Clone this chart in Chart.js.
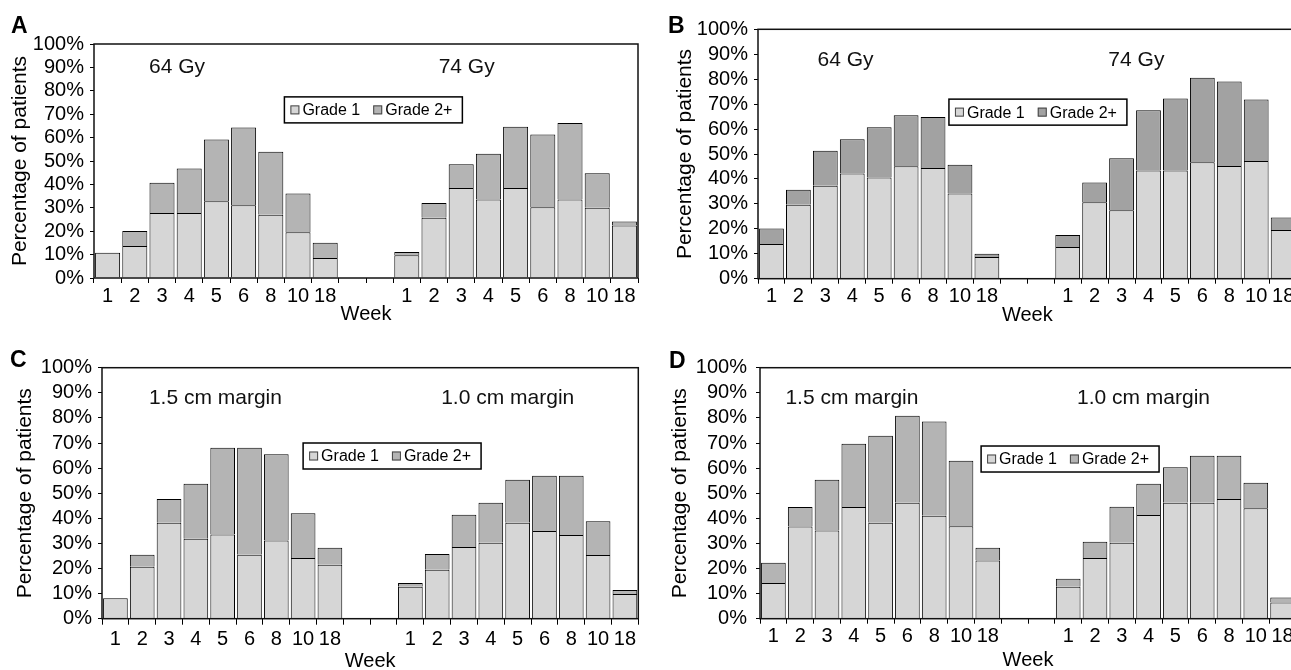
<!DOCTYPE html>
<html><head><meta charset="utf-8">
<script src="https://cdn.jsdelivr.net/npm/chart.js@4"></script>
<style>
html,body{margin:0;padding:0;background:#fff;overflow:hidden;width:1291px;height:670px;position:relative;}
canvas{position:absolute;}
</style></head><body>
<canvas id="cA" width="650" height="330" style="left:0px;top:0px"></canvas>
<canvas id="cB" width="660" height="330" style="left:650px;top:0px"></canvas>
<canvas id="cC" width="650" height="346" style="left:0px;top:330px"></canvas>
<canvas id="cD" width="660" height="346" style="left:650px;top:330px"></canvas>
<script>
// ---- data ----
const weekLabels = ['1','2','3','4','5','6','8','10','18','','','1','2','3','4','5','6','8','10','18'];
const seriesNames = ['Grade 1', 'Grade 2+'];
const yTicks = [0,10,20,30,40,50,60,70,80,90,100];

const groupsA = ['64 Gy', '74 Gy'];
const grade1A = [10.8,13.7,27.8,27.8,32.8,31.1,27.0,19.5,8.6,null,null,9.7,25.8,38.5,33.5,38.5,30.2,33.5,30.0,22.4];
const grade2A = [null,6.4,12.9,19.0,26.4,33.2,26.9,16.6,6.5,null,null,1.4,6.3,10.1,19.6,26.1,31.1,32.7,14.8,1.7];

const groupsB = ['64 Gy', '74 Gy'];
const grade1B = [13.9,29.7,37.3,42.2,40.6,45.1,44.4,34.2,8.7,null,null,12.7,30.7,27.4,43.4,43.4,46.7,45.2,47.2,19.5];
const grade2B = [6.2,6.0,14.0,13.7,20.1,20.4,20.4,11.5,1.3,null,null,4.8,7.9,20.9,24.1,28.9,33.9,33.9,24.7,5.0];

const groupsC = ['1.5 cm margin', '1.0 cm margin'];
const grade1C = [8.1,20.7,38.2,31.9,33.5,25.5,31.2,24.2,21.5,null,null,12.7,19.5,28.6,30.3,38.2,34.9,33.3,25.4,9.8];
const grade2C = [null,4.8,9.5,21.9,34.6,42.6,34.3,17.8,6.8,null,null,1.5,6.3,12.8,15.9,17.2,22.1,23.7,13.4,1.6];

const groupsD = ['1.5 cm margin', '1.0 cm margin'];
const grade1D = [14.2,36.7,35.1,44.5,38.2,46.2,41.0,36.8,23.2,null,null,12.7,24.2,30.3,41.3,46.2,46.2,47.7,44.0,6.5];
const grade2D = [8.1,7.8,20.3,25.2,34.7,34.7,37.6,26.1,5.1,null,null,3.2,6.5,14.3,12.5,14.1,18.7,17.2,10.2,1.9];

// ---- styling ----
const FONT = "'Liberation Sans', Arial, Helvetica, sans-serif";
const G1_COLOR = '#d6d6d6';

function decorPlugin(d) {
  return {
    id: 'decor',
    afterDatasetsDraw(chart) {
      const ctx = chart.ctx, ca = chart.chartArea;
      ctx.save();
      ctx.lineWidth = 1.5;
      ctx.strokeStyle = '#111';
      ctx.strokeRect(ca.left, ca.top, ca.right - ca.left, ca.bottom - ca.top);
      ctx.restore();
    },
    afterDraw(chart) {
      const ctx = chart.ctx, xs = chart.scales.x, ys = chart.scales.y;
      ctx.save();
      ctx.fillStyle = '#111';
      ctx.font = '21px ' + FONT;
      ctx.textAlign = 'center';
      ctx.textBaseline = 'middle';
      d.groups.forEach((g, i) => {
        ctx.fillText(g, xs.getPixelForValue(d.groupPos[i][0]), ys.getPixelForValue(d.groupPos[i][1]));
      });
      const ds = chart.data.datasets;
      const left = xs.getPixelForValue(d.legend[0]);
      const top = ys.getPixelForValue(d.legend[1]);
      ctx.font = '16px ' + FONT;
      const w1 = ctx.measureText(ds[0].label).width;
      const w2 = ctx.measureText(ds[1].label).width;
      const W = 6 + 9 + 3 + w1 + 13 + 9 + 3 + w2 + 10, H = 26;
      ctx.fillStyle = '#fff';
      ctx.fillRect(left, top, W, H);
      ctx.lineWidth = 1.5;
      ctx.strokeStyle = '#000';
      ctx.strokeRect(left, top, W, H);
      let x = left + 6;
      const cy = top + H / 2;
      ds.forEach((dset) => {
        ctx.fillStyle = dset.backgroundColor;
        ctx.fillRect(x, cy - 4.5, 9, 9);
        ctx.lineWidth = 1;
        ctx.strokeStyle = '#444';
        ctx.strokeRect(x + 0.5, cy - 4, 8, 8);
        x += 12;
        ctx.fillStyle = '#000';
        ctx.textAlign = 'left';
        ctx.textBaseline = 'middle';
        ctx.fillText(dset.label, x, cy + 1);
        x += ctx.measureText(dset.label).width + 13;
      });
      ctx.font = 'bold 23px ' + FONT;
      ctx.fillStyle = '#000';
      ctx.textAlign = 'left';
      ctx.textBaseline = 'alphabetic';
      ctx.fillText(d.letter[0], d.letter[1], d.letter[2]);
      ctx.restore();
    }
  };
}

function build(id, g1, g2, g2Color, groups, L) {
  new Chart(document.getElementById(id), {
    type: 'bar',
    data: {
      labels: weekLabels,
      datasets: [
        { label: seriesNames[0], data: g1, backgroundColor: G1_COLOR, borderColor: '#000', borderWidth: 1, borderSkipped: 'start' },
        { label: seriesNames[1], data: g2, backgroundColor: g2Color, borderColor: '#000', borderWidth: 1, borderSkipped: 'start' }
      ]
    },
    options: {
      responsive: false,
      animation: false,
      devicePixelRatio: 1,
      layout: { padding: { left: 0, right: L.padR, top: L.padT, bottom: L.padB } },
      datasets: { bar: { categoryPercentage: 1, barPercentage: 0.92 } },
      plugins: { legend: { display: false }, tooltip: { enabled: false } },
      scales: {
        x: {
          stacked: true,
          afterFit: s => { s.height = L.xH; },
          border: { display: false },
          grid: { drawOnChartArea: false, drawTicks: true, tickLength: L.tl, color: '#000', offset: true },
          ticks: { autoSkip: false, maxRotation: 0, minRotation: 0, padding: L.xp, color: '#000', font: { family: FONT, size: 20 } },
          title: { display: true, text: 'Week', color: '#000', font: { family: FONT, size: 20 }, padding: { top: 0, bottom: 0 } }
        },
        y: {
          stacked: true,
          min: yTicks[0], max: yTicks[yTicks.length - 1],
          afterFit: s => { s.width = L.yW; },
          afterBuildTicks: s => { s.ticks = yTicks.map(v => ({ value: v })); },
          border: { display: false },
          grid: { drawOnChartArea: false, drawTicks: true, tickLength: 4, color: '#000' },
          ticks: { autoSkip: false, padding: L.yp, color: '#000', font: { family: FONT, size: 20 }, callback: v => v + '%' },
          title: { display: true, text: 'Percentage of patients', color: '#000', font: { family: FONT, size: 21 }, padding: { top: L.yt, bottom: 0 } }
        }
      }
    },
    plugins: [decorPlugin({ groups: groups, groupPos: L.groupPos, legend: L.legend, letter: L.letter })]
  });
}

build('cA', grade1A, grade2A, '#b4b4b4', groupsA, {
  padR: 12, padT: 44, padB: 3.5, xH: 48.5, tl: 5, xp: 1, yW: 94, yp: 6, yt: 7.5,
  groupPos: [[2.55, 90], [13.2, 90]], legend: [6.5, 77.4], letter: ['A', 11, 33]
});
build('cB', grade1B, grade2B, '#a2a2a2', groupsB, {
  padR: 13.4, padT: 29.3, padB: 2.5, xH: 48.8, tl: 5, xp: 1, yW: 108, yp: 6, yt: 22.5,
  groupPos: [[2.75, 87.7], [13.55, 87.7]], legend: [6.59, 72], letter: ['B', 18, 33]
});
build('cC', grade1C, grade2C, '#b4b4b4', groupsC, {
  padR: 11.7, padT: 37.7, padB: 2.5, xH: 54.8, tl: 6, xp: 3, yW: 102, yp: 6, yt: 13,
  groupPos: [[3.73, 87.9], [14.63, 87.9]], legend: [7.0, 70], letter: ['C', 10, 37]
});
build('cD', grade1D, grade2D, '#b4b4b4', groupsD, {
  padR: 14, padT: 37.7, padB: 4, xH: 53.3, tl: 5, xp: 1, yW: 110, yp: 9, yt: 18,
  groupPos: [[2.93, 88], [13.81, 88]], legend: [7.75, 68.8], letter: ['D', 19, 38]
});
</script>
</body></html>
